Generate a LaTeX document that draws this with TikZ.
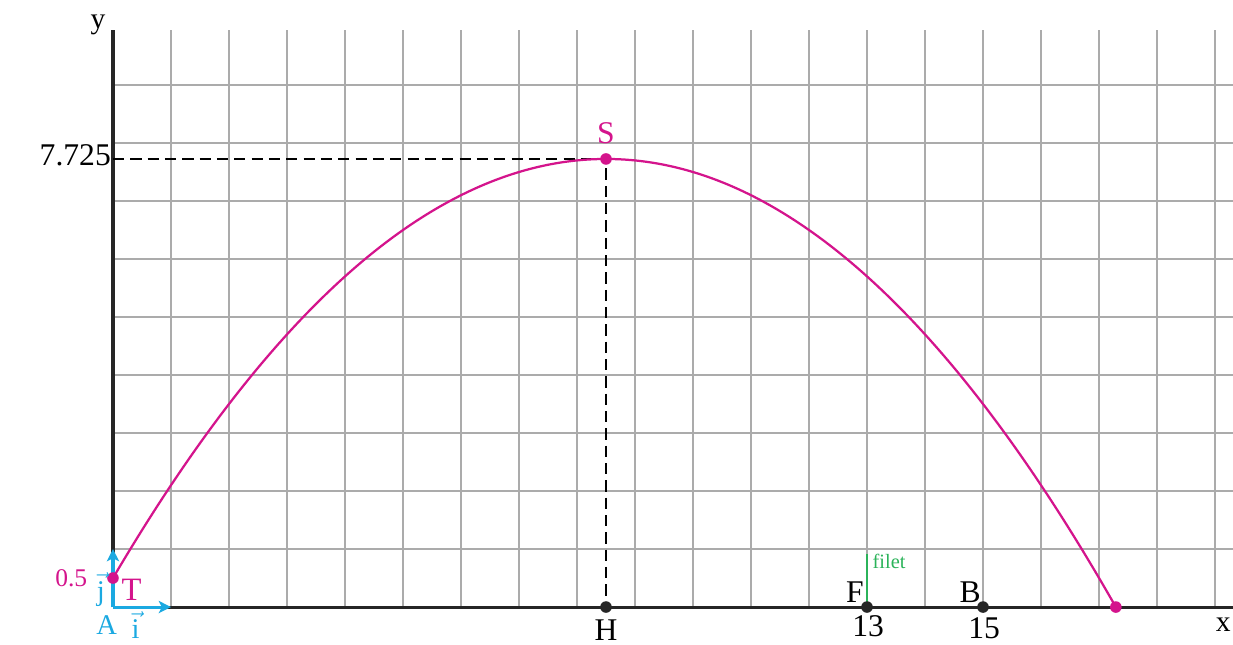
\documentclass[tikz,border=0pt]{standalone}
\usepackage{fontspec}
\setmainfont{Liberation Serif}
\usetikzlibrary{arrows.meta}
\definecolor{mag}{HTML}{D4148C}
\definecolor{cy}{HTML}{1BA9E1}
\definecolor{gr}{HTML}{2BB35A}
\definecolor{gridgray}{HTML}{ABABAB}
\begin{document}
\begin{tikzpicture}[x=1cm,y=1cm,
  gridline/.style={gridgray, line width=1pt},
  axisline/.style={black!85, line width=1.5pt},
  vecline/.style={cy, line width=1.5pt, -{Stealth[length=6pt,width=6pt,inset=1.5pt]}},
  dashline/.style={black, line width=0.9pt, dash pattern=on 5.5pt off 3pt},
  curve/.style={mag, line width=1.1pt},
  lbl/.style={inner sep=0pt, font=\fontsize{15.5}{18}\selectfont},
  smalllbl/.style={inner sep=0pt, font=\fontsize{12.5}{14}\selectfont},
  dot/.style={circle, fill=#1, inner sep=0pt, minimum size=0.2cm}]
\useasboundingbox (-1.948,-0.638) rectangle (19.31,10.466);
% grid
\foreach \i in {1,...,19} \draw[gridline] (\i,0) -- (\i,9.95);
\foreach \j in {1,...,9} \draw[gridline] (0,\j) -- (19.31,\j);
% axes
\coordinate (O) at (0,0);
\coordinate (Xend) at (19.31,0);
\coordinate (Yend) at (0,9.95);
\draw[axisline] (O) -- (Xend);
\draw[axisline] (O) -- (Yend);
% key points
\coordinate (T) at (0,0.5);
\coordinate (S) at (8.5,7.725);
\coordinate (H) at (8.5,0);
\coordinate (F) at (13,0);
\coordinate (B) at (15,0);
\coordinate (E) at (17.29,0);
\coordinate (Y7) at (0,7.725);
\coordinate (C1) at (2.8333,5.3167);
\coordinate (C2) at (5.6667,7.725);
\coordinate (C3) at (11.43,7.725);
\coordinate (C4) at (14.36,5.15);
\coordinate (I) at (1,0);
\coordinate (J) at (0,1);
\coordinate (Ftop) at (13,0.92);
% dashed guides
\draw[dashline] (Y7) -- (S) -- (H);
% unit vectors
\draw[vecline] (O) -- (I);
\draw[vecline] (O) -- (J);
% filet
\draw[gr, line width=1.3pt] (F) -- (Ftop);
% trajectory (exact parabola y = -0.1x^2 + 1.7x + 0.5)
\draw[curve] (T) .. controls (C1) and (C2) .. (S) .. controls (C3) and (C4) .. (E);
% dots
\node[dot=mag] (dT) at (T) {};
\node[dot=mag] (dS) at (S) {};
\node[dot=mag] (dE) at (E) {};
\node[dot=black!85] (dH) at (H) {};
\node[dot=black!85] (dF) at (F) {};
\node[dot=black!85] (dB) at (B) {};
% labels
\node[lbl, font=\fontsize{14.5}{17}\selectfont] (ylab) at (-0.26,10.03) {y};
\node[lbl, font=\fontsize{14.5}{17}\selectfont] (xlab) at (19.14,-0.31) {x};
\node[lbl, anchor=east] (l7725) at (-0.03,7.79) {7.725};
\node[lbl, text=mag] (lS) at (8.5,8.17) {S};
\node[lbl] (lH) at (8.5,-0.39) {H};
\node[lbl] (lF) at (12.79,0.26) {F};
\node[lbl] (l13) at (13.02,-0.33) {13};
\node[lbl] (lB) at (14.78,0.26) {B};
\node[lbl] (l15) at (15.02,-0.37) {15};
\node[lbl, text=mag, font=\fontsize{16}{18}\selectfont] (lT) at (0.32,0.3) {T};
\node[smalllbl, text=mag] (l05) at (-0.72,0.5) {0.5};
\node[smalllbl, text=cy, font=\fontsize{14}{16}\selectfont] (lA) at (-0.11,-0.31) {A};
\node[smalllbl, text=cy, font=\fontsize{14}{16}\selectfont] (li) at (0.39,-0.31) {$\vec{\mathrm{i}}$};
\node[smalllbl, text=cy, font=\fontsize{14}{16}\selectfont] (lj) at (-0.21,0.3) {$\vec{\mathrm{j}}$};
\node[inner sep=0pt, text=gr, font=\fontsize{10}{12}\selectfont] (lfilet) at (13.38,0.79) {filet};
\end{tikzpicture}
\end{document}
